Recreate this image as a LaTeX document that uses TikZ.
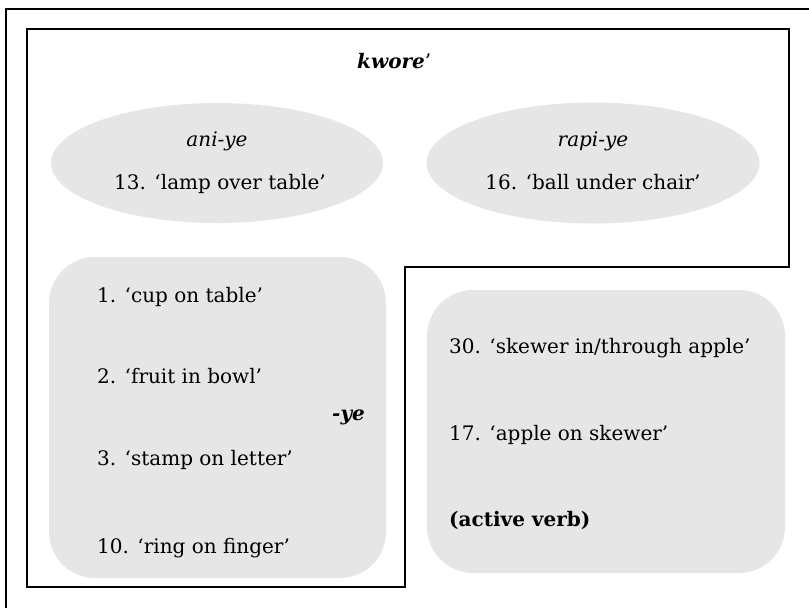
\documentclass[tikz,border=0pt]{standalone}
\usepackage{fontspec}
\setmainfont{DejaVu Serif}
\usetikzlibrary{shapes.geometric}
\definecolor{blobgray}{RGB}{230,230,230}
\tikzset{
  blob/.style={fill=blobgray, draw=none, inner sep=0pt},
  roundbox/.style={blob, rectangle, rounded corners=46pt},
  oval/.style={blob, ellipse},
  lbl/.style={anchor=base west, inner sep=0pt, font=\fontsize{20}{24}\selectfont},
  clbl/.style={anchor=base, inner sep=0pt, font=\fontsize{20}{24}\selectfont},
  frame/.style={draw=black, line width=1.6pt},
  region/.style={draw=black, line width=1.2pt, line join=miter},
}
\begin{document}
\begin{tikzpicture}[x=1pt,y=-1pt]
\useasboundingbox (0,0) rectangle (809,608);
% outer frame (right and bottom edges lie outside the picture)
\draw[frame] (6,615) -- (6,9) -- (815,9);
% gray shapes
\node[oval, minimum width=332pt, minimum height=120pt] (e1) at (217,163) {};
\node[oval, minimum width=333pt, minimum height=121pt] (e2) at (593,163) {};
\node[roundbox, minimum width=337pt, minimum height=321pt] (b1) at (217.5,417.5) {};
\node[roundbox, minimum width=358pt, minimum height=283pt] (b2) at (606,431.5) {};
% kwore' region outline
\coordinate (p1) at (27,29);
\coordinate (p2) at (789,29);
\coordinate (p3) at (789,267);
\coordinate (p4) at (405,267);
\coordinate (p5) at (405,587);
\coordinate (p6) at (27,587);
\draw[region] (p1) -- (p2) -- (p3) -- (p4) -- (p5) -- (p6) -- cycle;
% texts
\node[lbl] (kw) at (357,68) {\textbf{\textit{kwore}}\symbol{"27}};
\node[clbl] (t1a) at (217,146) {\textit{ani-ye}};
\node[clbl] (t1b) at (220,189) {13. ‘lamp over table’};
\node[clbl] (t2a) at (593,146) {\textit{rapi-ye}};
\node[clbl] (t2b) at (593,189) {16. ‘ball under chair’};
\node[lbl] (l1) at (97,302) {1. ‘cup on table’};
\node[lbl] (l2) at (97,383) {2. ‘fruit in bowl’};
\node[lbl] (l3) at (97,465) {3. ‘stamp on letter’};
\node[lbl] (l4) at (97,553) {10. ‘ring on finger’};
\node[lbl] (ye) at (332,420) {\textbf{\textit{-ye}}};
\node[lbl] (r1) at (449,353) {30. ‘skewer in/through apple’};
\node[lbl] (r2) at (449,440) {17. ‘apple on skewer’};
\node[lbl] (r3) at (449,526) {\textbf{(active verb)}};
\end{tikzpicture}
\end{document}
